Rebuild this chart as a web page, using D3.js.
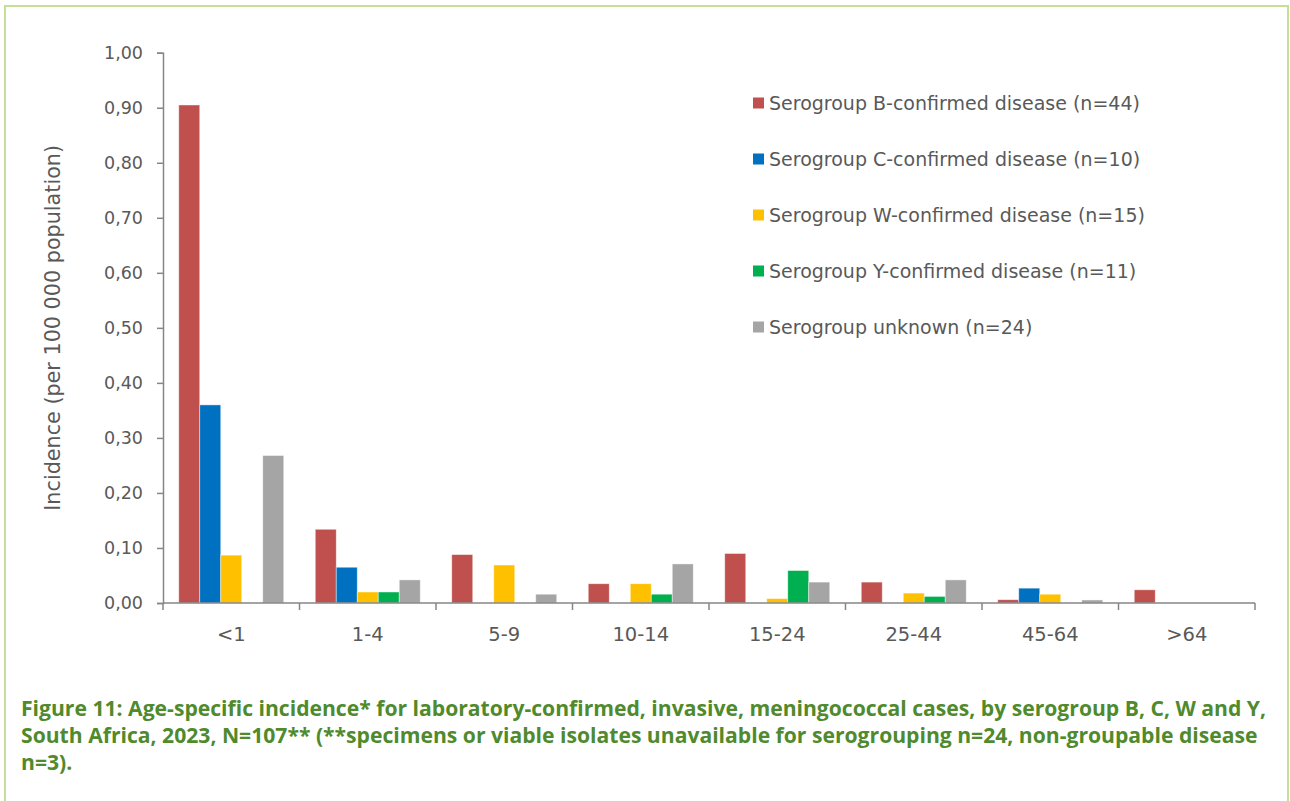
<!DOCTYPE html>
<html>
<head>
<meta charset="utf-8">
<script src="https://cdn.jsdelivr.net/npm/d3@7"></script>
<style>
  html, body { margin: 0; padding: 0; background: #ffffff; }
  svg { display: block; }
</style>
</head>
<body>
<svg id="chart" width="1290" height="801"></svg>
<script>
// Age groups (x categories)
const ageGroups = ["<1", "1-4", "5-9", "10-14", "15-24", "25-44", "45-64", ">64"];

// Incidence per 100 000 population, by serogroup
const serogroupB = [0.905, 0.134, 0.088, 0.035, 0.090, 0.038, 0.006, 0.024];
const serogroupC = [0.360, 0.065, 0.000, 0.000, 0.000, 0.000, 0.027, 0.000];
const serogroupW = [0.087, 0.020, 0.069, 0.035, 0.008, 0.018, 0.016, 0.000];
const serogroupY = [0.000, 0.020, 0.000, 0.016, 0.059, 0.012, 0.000, 0.000];
const serogroupUnknown = [0.268, 0.042, 0.016, 0.071, 0.038, 0.042, 0.0055, 0.000];

const seriesNames = [
  "Serogroup B-confirmed disease (n=44)",
  "Serogroup C-confirmed disease (n=10)",
  "Serogroup W-confirmed disease (n=15)",
  "Serogroup Y-confirmed disease (n=11)",
  "Serogroup unknown (n=24)"
];
const seriesColors = ["#C0504D", "#0070C0", "#FFC000", "#00B050", "#A5A5A5"];
const yTicks = [0, 0.1, 0.2, 0.3, 0.4, 0.5, 0.6, 0.7, 0.8, 0.9, 1.0];

const captionLines = [
  "Figure 11: Age-specific incidence* for laboratory-confirmed, invasive, meningococcal cases, by serogroup B, C, W and Y,",
  "South Africa, 2023, N=107** (**specimens or viable isolates unavailable for serogrouping n=24, non-groupable disease",
  "n=3)."
];

const seriesValues = [serogroupB, serogroupC, serogroupW, serogroupY, serogroupUnknown];
const series = seriesNames.map((name, i) => ({ name, color: seriesColors[i], values: seriesValues[i] }));

const svg = d3.select("#chart");
const font = "'DejaVu Sans', sans-serif";
const textGrey = "#595959";
const axisGrey = "#868686";

// Frame around the figure
svg.append("path")
  .attr("d", "M5,801 L5,6 L1288,6 L1288,801")
  .attr("fill", "none")
  .attr("stroke", "#c6df98")
  .attr("stroke-width", 2);

const plot = { left: 163, right: 1255, top: 52.7, bottom: 603 };

const x0 = d3.scaleBand().domain(ageGroups).range([plot.left, plot.right]).paddingInner(0).paddingOuter(0);
const x1 = d3.scaleBand().domain(d3.range(series.length)).range([0, x0.bandwidth()]).paddingInner(0).paddingOuter(0.75);
const y = d3.scaleLinear().domain([0, 1]).range([plot.bottom, plot.top]);

// Bars
const groups = svg.append("g").selectAll("g")
  .data(ageGroups)
  .join("g")
  .attr("transform", d => `translate(${x0(d)},0)`);

groups.selectAll("rect")
  .data((d, gi) => series.map((s, si) => ({ si, v: s.values[gi], color: s.color })))
  .join("rect")
  .filter(d => d.v > 0)
  .attr("x", d => x1(d.si))
  .attr("width", x1.bandwidth())
  .attr("y", d => y(d.v))
  .attr("height", d => y(0) - y(d.v))
  .attr("fill", d => d.color)
  .attr("stroke", "rgba(255,255,255,0.55)")
  .attr("stroke-width", 0.8);

// Y axis
const yAxis = svg.append("g")
  .attr("transform", `translate(${plot.left},0)`)
  .call(d3.axisLeft(y).tickValues(yTicks).tickSize(6).tickPadding(14)
    .tickFormat(d => d3.format(".2f")(d).replace(".", ",")));
yAxis.select(".domain").attr("stroke", axisGrey).attr("stroke-width", 1.5);
yAxis.selectAll(".tick line").attr("stroke", axisGrey).attr("stroke-width", 1.5);
yAxis.selectAll(".tick text")
  .attr("fill", textGrey)
  .style("font-family", font)
  .style("font-size", "17.5px");

// X axis with ticks between categories
const xAxisG = svg.append("g").attr("transform", `translate(0,${plot.bottom})`);
xAxisG.append("line")
  .attr("x1", plot.left).attr("x2", plot.right)
  .attr("stroke", axisGrey).attr("stroke-width", 1.5);
const boundaries = ageGroups.map(d => x0(d)).concat([plot.right]);
xAxisG.selectAll("line.tick")
  .data(boundaries)
  .join("line")
  .attr("class", "tick")
  .attr("x1", d => d).attr("x2", d => d)
  .attr("y1", 0).attr("y2", 7)
  .attr("stroke", axisGrey).attr("stroke-width", 1.5);
xAxisG.selectAll("text")
  .data(ageGroups)
  .join("text")
  .attr("x", d => x0(d) + x0.bandwidth() / 2)
  .attr("y", 38)
  .attr("text-anchor", "middle")
  .attr("fill", textGrey)
  .style("font-family", font)
  .style("font-size", "19.5px")
  .text(d => d);

// Y axis title
const yTitle = svg.append("text")
  .attr("transform", `translate(60,${(plot.top + plot.bottom) / 2}) rotate(-90)`)
  .attr("text-anchor", "middle")
  .attr("fill", textGrey)
  .style("font-family", font)
  .style("font-size", "18px")
  .text("Incidence (per 100 000 population)");

// Scale a text element's font size so it spans the given width
function fitWidth(sel, target, base) {
  const w = sel.node().getComputedTextLength();
  const size = base * target / w;
  sel.style("font-size", size + "px");
  return size;
}
fitWidth(yTitle, 366, 18);

// Legend
const legend = svg.append("g").attr("transform", "translate(753,0)");
const legendRows = legend.selectAll("g")
  .data(series)
  .join("g")
  .attr("transform", (d, i) => `translate(0,${103 + i * 56})`);
legendRows.append("rect")
  .attr("x", 0).attr("y", -5.5)
  .attr("width", 11).attr("height", 11)
  .attr("fill", d => d.color);
const legendText = legendRows.append("text")
  .attr("x", 16)
  .attr("dy", "0.35em")
  .attr("fill", textGrey)
  .style("font-family", font)
  .style("font-size", "18px")
  .text(d => d.name);
const legendSize = fitWidth(d3.select(legendText.nodes()[0]), 371, 18);
legendText.style("font-size", legendSize + "px");

// Caption
const caption = svg.append("g");
const captionText = caption.selectAll("text")
  .data(captionLines)
  .join("text")
  .attr("x", 21)
  .attr("y", (d, i) => 716 + i * 27)
  .attr("fill", "#4f8a2c")
  .style("font-family", "'Open Sans', sans-serif")
  .style("font-weight", "700")
  .style("font-size", "18px")
  .text(d => d);
const capSize = fitWidth(d3.select(captionText.nodes()[0]), 1246, 18);
captionText.style("font-size", capSize + "px");
</script>
</body>
</html>
